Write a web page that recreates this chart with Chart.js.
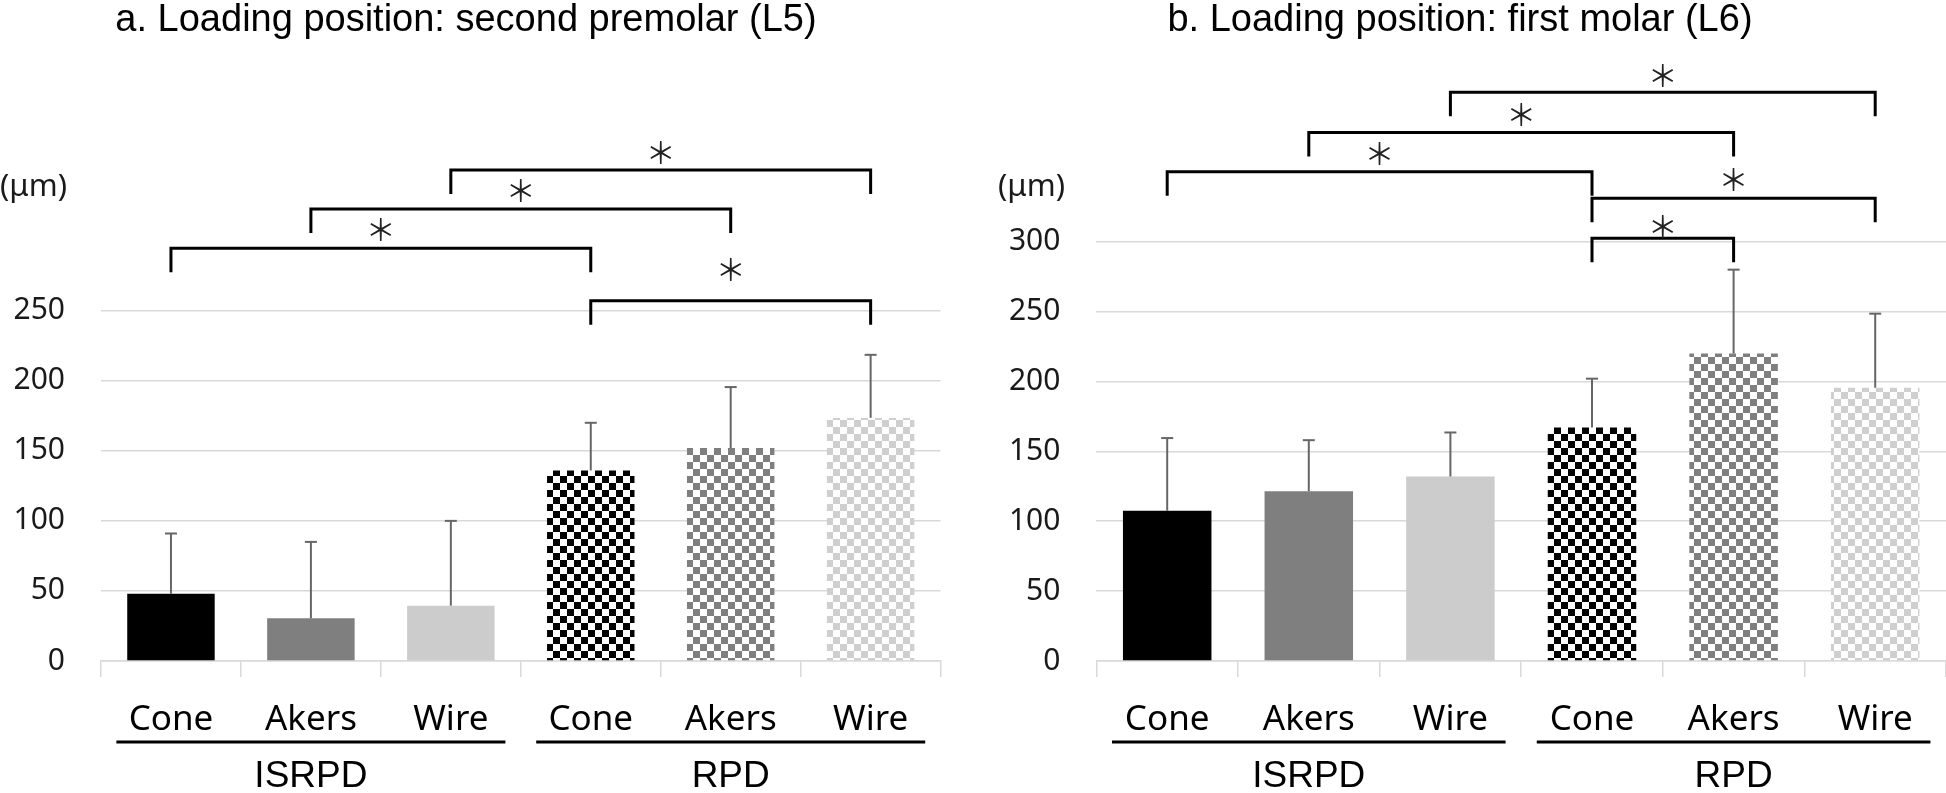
<!DOCTYPE html>
<html><head><meta charset="utf-8">
<script src="https://cdn.jsdelivr.net/npm/chart.js@4"></script>
<style>
html,body{margin:0;padding:0;background:#fff;}
#wrap{position:relative;width:1946px;height:793px;overflow:hidden;background:#fff;}
.box{position:absolute;top:0;height:793px;width:973px;}
</style></head><body>
<div id="wrap">
<div class="box" style="left:0"><canvas id="c1"></canvas></div>
<div class="box" style="left:973px"><canvas id="c2"></canvas></div>
</div>
<script>
// ---- data ----
const categories = ['Cone', 'Akers', 'Wire', 'Cone', 'Akers', 'Wire'];
const groupNames = ['ISRPD', 'RPD'];
const groupSpans = [[0, 2], [3, 5]];
const titleL5 = 'a. Loading position: second premolar (L5)';
const titleL6 = 'b. Loading position: first molar (L6)';
const unitLabel = '(μm)';
const starText = '＊';
const meanL5 = [48, 30.5, 39.5, 136, 152, 173.5];
const sdL5   = [43, 54.5, 60.5, 34, 43.5, 45];
const meanL6 = [107.5, 121.5, 132, 167, 220, 195.5];
const sdL6   = [52, 36.5, 31.5, 35, 60, 53];
const ticksL5 = [0, 50, 100, 150, 200, 250];
const ticksL6 = [0, 50, 100, 150, 200, 250, 300];
// significance brackets: [from index, to index, bracket level, star level] in µm
const sigL5 = [[2, 5, 350.4, 362.7], [1, 4, 322.6, 335.4], [0, 3, 294.5, 307.6], [3, 5, 257.1, 279.5]];
const sigL6 = [[2, 5, 406.9, 419.1], [1, 4, 378.1, 391.0], [0, 3, 350.0, 363.1], [3, 5, 331.0, 344.1], [3, 4, 302.4, 310.7]];

// ---- styles ----
const solidColors = ['#000000', '#7f7f7f', '#cccccc'];
function checker(color) {
  const c = document.createElement('canvas');
  c.width = 14; c.height = 14;
  const g = c.getContext('2d');
  g.fillStyle = '#ffffff'; g.fillRect(0, 0, 14, 14);
  g.fillStyle = color; g.fillRect(0, 0, 7, 7); g.fillRect(7, 7, 7, 7);
  return g.createPattern(c, 'repeat');
}
const fills = [solidColors[0], solidColors[1], solidColors[2],
  checker('#000000'), checker('#7f7f7f'), checker('#cfcfcf')];

function makeExtras(cfg) {
  return {
    id: 'extras_' + cfg.id,
    afterDatasetsDraw(chart) {
      const ctx = chart.ctx, y = chart.scales.y;
      const meta = chart.getDatasetMeta(0);
      ctx.save();
      ctx.strokeStyle = '#666666'; ctx.lineWidth = 2;
      meta.data.forEach((bar, i) => {
        const top = y.getPixelForValue(cfg.mean[i] + cfg.sd[i]);
        ctx.beginPath(); ctx.moveTo(bar.x, bar.y); ctx.lineTo(bar.x, top); ctx.stroke();
        ctx.beginPath(); ctx.moveTo(bar.x - 6, top); ctx.lineTo(bar.x + 6, top); ctx.stroke();
      });
      ctx.restore();
    },
    afterDraw(chart) {
      const ctx = chart.ctx, x = chart.scales.x, y = chart.scales.y;
      const cw = x.getPixelForValue(1) - x.getPixelForValue(0);
      ctx.save();
      // title
      ctx.fillStyle = '#000';
      ctx.font = '38px "Liberation Sans", Arial, sans-serif';
      ctx.textAlign = 'center'; ctx.textBaseline = 'alphabetic';
      ctx.fillText(cfg.title, cfg.titleX, 31);
      // unit
      ctx.font = '31px "Noto Sans", sans-serif';
      ctx.textAlign = 'left'; ctx.textBaseline = 'middle';
      ctx.fillStyle = '#1a1a1a';
      ctx.fillText(unitLabel, cfg.unitX, 187);
      // group underlines and labels
      ctx.strokeStyle = '#000'; ctx.lineWidth = 3;
      ctx.font = '37px "Liberation Sans", Arial, sans-serif';
      ctx.textAlign = 'center'; ctx.textBaseline = 'alphabetic';
      ctx.fillStyle = '#000';
      groupSpans.forEach((sp, gi) => {
        const x0 = x.getPixelForValue(sp[0]) - 0.39 * cw;
        const x1 = x.getPixelForValue(sp[1]) + 0.39 * cw;
        ctx.beginPath(); ctx.moveTo(x0, 742); ctx.lineTo(x1, 742); ctx.stroke();
        ctx.fillText(groupNames[gi], (x0 + x1) / 2, 787);
      });
      // brackets
      ctx.lineWidth = 3; ctx.lineJoin = 'miter'; ctx.lineCap = 'butt';
      ctx.font = '30px "Noto Sans CJK KR", sans-serif';
      ctx.textBaseline = 'middle';
      ctx.fillStyle = '#222';
      cfg.sig.forEach(s => {
        const xa = x.getPixelForValue(s[0]), xb = x.getPixelForValue(s[1]);
        const yl = y.getPixelForValue(s[2]);
        ctx.beginPath();
        ctx.moveTo(xa, yl + 24); ctx.lineTo(xa, yl); ctx.lineTo(xb, yl); ctx.lineTo(xb, yl + 24);
        ctx.stroke();
        ctx.fillText(starText, (xa + xb) / 2, y.getPixelForValue(s[3]));
      });
      ctx.restore();
    }
  };
}

function makeChart(cfg) {
  return new Chart(document.getElementById(cfg.id), {
    type: 'bar',
    data: {
      labels: categories,
      datasets: [{ data: cfg.mean, backgroundColor: fills, borderWidth: 0,
        categoryPercentage: 1, barPercentage: 0.625 }]
    },
    options: {
      responsive: true, maintainAspectRatio: false, animation: false,
      layout: { padding: { top: cfg.top, right: cfg.right, left: 0, bottom: 0 } },
      plugins: { legend: { display: false }, tooltip: { enabled: false }, title: { display: false } },
      scales: {
        x: {
          grid: { offset: true, drawOnChartArea: false, drawTicks: true, tickLength: 16, color: '#d9d9d9', lineWidth: 1.5 },
          border: { display: true, color: '#d9d9d9', width: 1.5 },
          ticks: { font: { family: '"Noto Sans", sans-serif', size: 35 }, color: '#000', padding: 22, maxRotation: 0, autoSkip: false },
          afterFit(s) { s.height = 132; }
        },
        y: {
          min: 0, max: cfg.ticks[cfg.ticks.length - 1],
          grid: { color: '#d9d9d9', lineWidth: 1.5, drawTicks: false },
          border: { display: false },
          ticks: { font: { family: '"Noto Sans", sans-serif', size: 30 }, color: '#1a1a1a', padding: 36 },
          afterBuildTicks(s) { s.ticks = cfg.ticks.map(v => ({ value: v })); },
          afterFit(s) { s.width = cfg.yw; }
        }
      }
    },
    plugins: [makeExtras(cfg)]
  });
}

makeChart({ id: 'c1', mean: meanL5, sd: sdL5, ticks: ticksL5, sig: sigL5, title: titleL5,
  titleX: 466, unitX: 0, top: 310.7, right: 32.4, yw: 101 });
makeChart({ id: 'c2', mean: meanL6, sd: sdL6, ticks: ticksL6, sig: sigL6, title: titleL6,
  titleX: 487, unitX: 25, top: 241.7, right: 0, yw: 123.4 });
</script>
</body></html>
